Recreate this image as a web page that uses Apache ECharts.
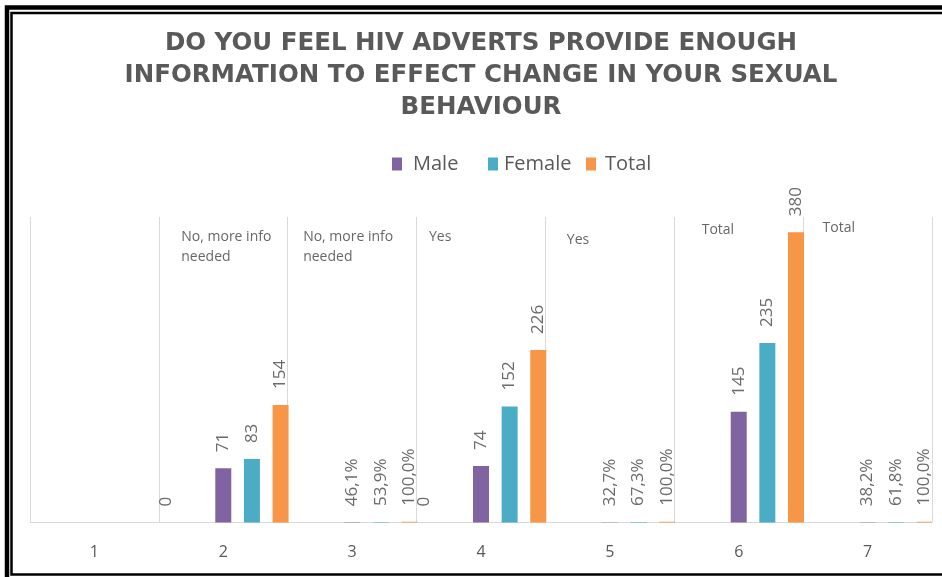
<!DOCTYPE html>
<html>
<head>
<meta charset="utf-8">
<script src="https://cdn.jsdelivr.net/npm/echarts@6/dist/echarts.min.js"></script>
<style>
  html, body { margin: 0; padding: 0; background: #ffffff; overflow: hidden; }
  #chart { width: 942px; height: 577px; }
</style>
</head>
<body>
<div id="chart"></div>
<script>
// Survey question and answer breakdown by sex
const titleText = 'DO YOU FEEL HIV ADVERTS PROVIDE ENOUGH\nINFORMATION TO EFFECT CHANGE IN YOUR SEXUAL\nBEHAVIOUR';
const categories = ['1', '2', '3', '4', '5', '6', '7'];
const legendNames = ['Male', 'Female', 'Total'];

// Leading count column (zero where present) and an unused column slot
const zeroRow = [null, 0, null, 0, null, null, null];
const blankRow = [null, null, null, null, null, null, null];

// Counts in rows 2, 4, 6; shares (fractions) in rows 3, 5, 7
const male = [null, 71, 0.461, 74, 0.327, 145, 0.382];
const female = [null, 83, 0.539, 152, 0.673, 235, 0.618];
const total = [null, 154, 1.000, 226, 1.000, 380, 1.000];
const isShareRow = [false, false, true, false, true, false, true];

// Answer captions per row
const notes = ['', 'No, more info\nneeded', 'No, more info\nneeded', 'Yes', 'Yes', 'Total', 'Total'];

const yMax = 400;

const colors = { Male: '#8064A2', Female: '#4BACC6', Total: '#F79646' };
// pixel nudges of each caption from the top of its category column
const noteShift = [[0, 0], [-42, 10], [-49, 10], [-52, 10], [-43, 13], [-37, 3], [-45, 1]];
// legend entry placement
const legendLeft = [392, 488, 586];
const legendTextPad = [6, 1, 4];

const valueLabel = {
  show: true,
  position: 'top',
  distance: 16,
  rotate: 90,
  align: 'left',
  verticalAlign: 'middle',
  color: '#6b6b6b',
  fontSize: 17,
  fontFamily: 'Open Sans',
  formatter: p => isShareRow[p.dataIndex]
    ? (p.value * 100).toFixed(1).replace('.', ',') + '%'
    : String(p.value)
};

const barBase = { type: 'bar', barWidth: 16, barGap: '79%', label: valueLabel, silent: true };

const noteData = [];
notes.forEach((t, i) => {
  if (t) {
    noteData.push({ name: t, value: [i, yMax], label: { offset: noteShift[i] } });
  }
});

const legends = legendNames.map((name, i) => ({
  data: [name],
  left: legendLeft[i],
  top: 154,
  icon: 'rect',
  itemWidth: 10,
  itemHeight: 13,
  padding: 0,
  textStyle: {
    fontFamily: 'Open Sans',
    fontSize: 20,
    lineHeight: 20,
    color: '#595959',
    padding: [0, 0, 0, legendTextPad[i]]
  }
}));

const chart = echarts.init(document.getElementById('chart'), null, { renderer: 'canvas' });
chart.setOption({
  backgroundColor: '#ffffff',
  animation: false,
  title: {
    text: titleText,
    left: 481,
    top: 28,
    textAlign: 'center',
    padding: 0,
    textStyle: {
      fontFamily: 'DejaVu Sans',
      fontWeight: 'bold',
      fontSize: 24.5,
      lineHeight: 32,
      color: '#595959'
    }
  },
  legend: legends,
  grid: { left: 30, right: 10, top: 217, bottom: 54.5 },
  xAxis: {
    type: 'category',
    data: categories,
    axisLine: { lineStyle: { color: '#d9d9d9', width: 1 } },
    axisTick: { show: false },
    splitLine: { show: true, lineStyle: { color: '#d9d9d9', width: 1 } },
    axisLabel: { color: '#595959', fontSize: 16, fontFamily: 'Open Sans', margin: 22 }
  },
  yAxis: { type: 'value', min: 0, max: yMax, show: false },
  series: [
    Object.assign({}, barBase, { name: 'Count', data: zeroRow, itemStyle: { color: colors.Male } }),
    Object.assign({}, barBase, { name: 'Blank', data: blankRow }),
    Object.assign({}, barBase, { name: 'Male', data: male, itemStyle: { color: colors.Male } }),
    Object.assign({}, barBase, { name: 'Female', data: female, itemStyle: { color: colors.Female } }),
    Object.assign({}, barBase, { name: 'Total', data: total, itemStyle: { color: colors.Total } }),
    {
      type: 'scatter',
      name: 'Answer',
      symbolSize: 0,
      silent: true,
      data: noteData,
      label: {
        show: true,
        position: 'right',
        distance: 0,
        align: 'left',
        verticalAlign: 'top',
        color: '#404040',
        fontSize: 14,
        lineHeight: 20,
        fontFamily: 'Open Sans',
        formatter: p => p.name
      }
    }
  ],
  graphic: [
    {
      // heavy outer frame: left, top (runs off the right edge)
      type: 'polyline',
      shape: { points: [[7, 577], [7, 7.5], [942, 7.5]] },
      style: { fill: 'none', stroke: '#000000', lineWidth: 4.5 },
      silent: true
    },
    {
      // thin inner frame: left, top, bottom
      type: 'polyline',
      shape: { points: [[942, 13], [11.5, 13], [11.5, 574.5], [942, 574.5]] },
      style: { fill: 'none', stroke: '#000000', lineWidth: 2.5 },
      silent: true
    }
  ]
});
</script>
</body>
</html>
